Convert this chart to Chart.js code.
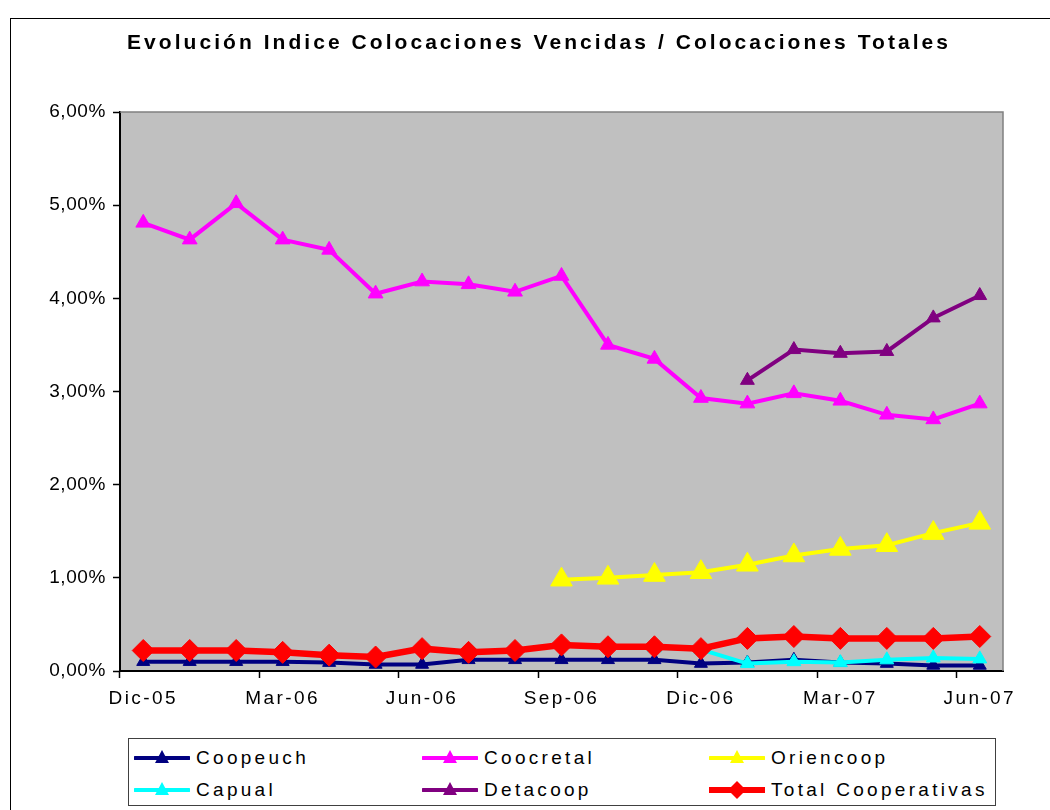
<!DOCTYPE html>
<html>
<head>
<meta charset="utf-8">
<script src="https://cdn.jsdelivr.net/npm/chart.js@4.4.1/dist/chart.umd.min.js"></script>
<style>
  html, body { margin: 0; padding: 0; background: #fff; }
  body { width: 1050px; height: 810px; position: relative; overflow: hidden; font-family: "Liberation Sans", Arial, sans-serif; }
  #frame { position: absolute; left: 10px; top: 18px; width: 1100px; height: 900px; border-left: 1px solid #000; border-top: 1px solid #000; }
  #title { position: absolute; left: 127px; top: 31px; font-weight: bold; font-size: 21px; line-height: 21px; letter-spacing: 3.05px; color: #000; white-space: nowrap; }
  #chartWrap { position: absolute; left: 0; top: 0; width: 1050px; height: 810px; }
  #legend { position: absolute; left: 128px; top: 738px; width: 866px; height: 66px; border: 1px solid #404040; background: #fff; }
  .item { position: absolute; height: 32px; display: flex; align-items: center; font-size: 19px; letter-spacing: 3.3px; color: #000; white-space: nowrap; }
  .item svg { margin-right: 6px; }
</style>
</head>
<body>
<div id="frame"></div>
<div id="chartWrap"><canvas id="c" width="1050" height="810"></canvas></div>
<div id="title">Evolución Indice Colocaciones Vencidas / Colocaciones Totales</div>
<div id="legend"></div>
<script>
const months = ['Dic-05','Ene-06','Feb-06','Mar-06','Abr-06','May-06','Jun-06','Jul-06','Ago-06','Sep-06','Oct-06','Nov-06','Dic-06','Ene-07','Feb-07','Mar-07','Abr-07','May-07','Jun-07'];
const tickLabels = ['Dic-05','Mar-06','Jun-06','Sep-06','Dic-06','Mar-07','Jun-07'];
const seriesNames = ['Coopeuch','Coocretal','Oriencoop','Capual','Detacoop','Total Cooperativas'];
const coopeuch  = [0.10,0.10,0.10,0.10,0.09,0.07,0.07,0.12,0.12,0.12,0.12,0.12,0.08,0.09,0.12,0.09,0.08,0.06,0.06];
const coocretal = [4.81,4.63,5.02,4.63,4.52,4.05,4.18,4.15,4.07,4.24,3.50,3.35,2.93,2.87,2.98,2.90,2.75,2.70,2.87];
const oriencoop = [null,null,null,null,null,null,null,null,null,0.98,1.00,1.03,1.06,1.14,1.24,1.31,1.35,1.48,1.59];
const capual    = [null,null,null,null,null,null,null,null,null,null,null,0.25,0.23,0.08,0.10,0.09,0.12,0.14,0.13];
const detacoop  = [null,null,null,null,null,null,null,null,null,null,null,null,null,3.12,3.45,3.41,3.43,3.79,4.03];
const total     = [0.22,0.22,0.22,0.20,0.17,0.15,0.24,0.20,0.22,0.28,0.26,0.26,0.24,0.35,0.37,0.35,0.35,0.35,0.37];
const yTicks = [0,1,2,3,4,5,6];

const styles = [
  {color:'#000080', width:4, point:'triangle', r:7.5},
  {color:'#FF00FF', width:4, point:'triangle', r:8.5},
  {color:'#FFFF00', width:4, point:'triangle', r:12.5},
  {color:'#00FFFF', width:4, point:'triangle', r:8},
  {color:'#800080', width:4, point:'triangle', r:8},
  {color:'#FF0000', width:6.5, point:'rectRot', r:11}
];
const values = [coopeuch, coocretal, oriencoop, capual, detacoop, total];

const datasets = values.map((d, i) => ({
  label: seriesNames[i],
  data: d,
  borderColor: styles[i].color,
  backgroundColor: styles[i].color,
  borderWidth: styles[i].width,
  pointStyle: styles[i].point,
  pointRadius: styles[i].r,
  pointHoverRadius: styles[i].r,
  pointBorderWidth: 1,
  pointBackgroundColor: styles[i].color,
  pointBorderColor: styles[i].color,
  tension: 0,
  spanGaps: false,
  order: values.length - 1 - i
}));

function spacedLabels(spacing) {
  return {
    beforeUpdate: s => { s.ctx.letterSpacing = spacing; },
    afterFit: null,
    patch(s) {
      if (s._lsPatched) return;
      const orig = s.drawLabels;
      s.drawLabels = function (area) {
        const ctx = this.ctx;
        const prev = ctx.letterSpacing;
        ctx.letterSpacing = spacing;
        orig.call(this, area);
        ctx.letterSpacing = prev;
      };
      s._lsPatched = true;
    }
  };
}
const xSp = spacedLabels('2.4px');
const ySp = spacedLabels('0.6px');

const plotBg = {
  id: 'plotBg',
  beforeDraw(chart) {
    const {ctx, chartArea: a} = chart;
    ctx.save();
    ctx.fillStyle = '#C0C0C0';
    ctx.fillRect(a.left, a.top, a.right - a.left, a.bottom - a.top);
    ctx.restore();
  },
  afterDraw(chart) {
    const {ctx, chartArea: a} = chart;
    ctx.save();
    ctx.strokeStyle = '#808080';
    ctx.lineWidth = 1.5;
    ctx.beginPath();
    ctx.moveTo(a.left, a.top);
    ctx.lineTo(a.right, a.top);
    ctx.lineTo(a.right, a.bottom);
    ctx.stroke();
    ctx.restore();
  }
};

const font = {family: '"Liberation Sans", Arial, sans-serif', size: 19};

new Chart(document.getElementById('c'), {
  type: 'line',
  data: { labels: months, datasets },
  plugins: [plotBg],
  options: {
    responsive: false,
    animation: false,
    devicePixelRatio: 1,
    layout: { padding: { left: 0, right: 47, top: 112, bottom: 89 } },
    plugins: { legend: { display: false }, title: { display: false }, tooltip: { enabled: false } },
    scales: {
      x: {
        type: 'category',
        offset: true,
        grid: {
          offset: true,
          drawOnChartArea: false,
          drawTicks: true,
          tickLength: 7,
          tickWidth: 1.5,
          tickColor: ctx => (ctx.index % 3 === 0 ? '#000' : 'rgba(0,0,0,0)')
        },
        border: { color: '#000', width: 2 },
        ticks: {
          autoSkip: false,
          maxRotation: 0,
          minRotation: 0,
          color: '#000',
          font,
          padding: 9,
          callback: (v, i) => (i % 3 === 0 ? tickLabels[i / 3] : '')
        },
        beforeUpdate: xSp.beforeUpdate,
        afterFit: s => { s.height = 50; xSp.patch(s); s.ctx.letterSpacing = '0px'; }
      },
      y: {
        min: 0,
        max: 6,
        afterBuildTicks: s => { s.ticks = yTicks.map(v => ({value: v})); },
        grid: { drawOnChartArea: false, drawTicks: true, tickLength: 7, tickWidth: 1.5, tickColor: '#000' },
        border: { color: '#000', width: 2 },
        ticks: {
          color: '#000',
          font,
          padding: 7,
          callback: v => v.toFixed(2).replace('.', ',') + '%'
        },
        beforeUpdate: ySp.beforeUpdate,
        afterFit: s => { s.width = 120; ySp.patch(s); s.ctx.letterSpacing = '0px'; }
      }
    }
  }
});

// Legend (HTML)
const legendPos = [
  {x: 5, y: 3}, {x: 293, y: 3}, {x: 580, y: 3},
  {x: 5, y: 35}, {x: 293, y: 35}, {x: 580, y: 35}
];
const legend = document.getElementById('legend');
seriesNames.forEach((name, i) => {
  const st = styles[i];
  const div = document.createElement('div');
  div.className = 'item';
  div.style.left = legendPos[i].x + 'px';
  div.style.top = legendPos[i].y + 'px';
  const cx = 28, cy = 10;
  let marker;
  if (st.point === 'rectRot') {
    marker = `<polygon points="${cx},${cy-9} ${cx+9},${cy} ${cx},${cy+9} ${cx-9},${cy}" fill="${st.color}"/>`;
  } else {
    marker = `<polygon points="${cx},${cy-8} ${cx+7},${cy+5} ${cx-7},${cy+5}" fill="${st.color}"/>`;
  }
  div.innerHTML = `<svg width="56" height="20" viewBox="0 0 56 20"><line x1="1" y1="${cy}" x2="55" y2="${cy}" stroke="${st.color}" stroke-width="${i===5?6:4}" stroke-linecap="round"/>${marker}</svg><span>${name}</span>`;
  legend.appendChild(div);
});
</script>
</body>
</html>
